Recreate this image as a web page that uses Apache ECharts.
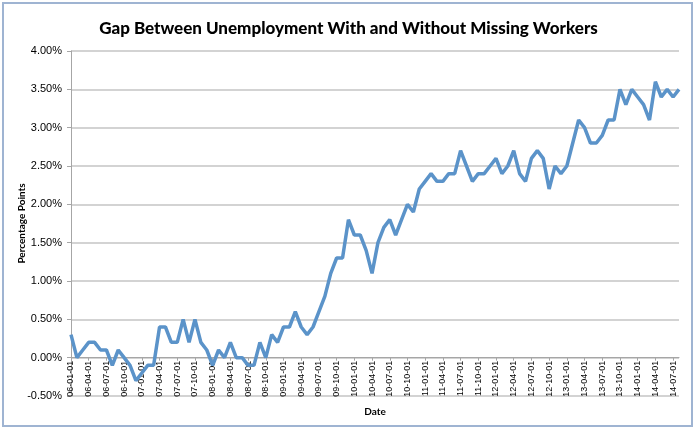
<!DOCTYPE html>
<html>
<head>
<meta charset="utf-8">
<script src="https://cdn.jsdelivr.net/npm/echarts@6/dist/echarts.min.js"></script>
<style>
  html, body { margin: 0; padding: 0; background: #ffffff; }
  #chart { width: 697px; height: 431px; }
</style>
</head>
<body>
<div id="chart"></div>
<script>
// 月度数据：2006-01 至 2014-08（百分点）
const years = ['06', '07', '08', '09', '10', '11', '12', '13', '14'];
const months = ['01', '02', '03', '04', '05', '06', '07', '08', '09', '10', '11', '12'];
const gapValues = [
  0.3, 0.0, 0.1, 0.2, 0.2, 0.1, 0.1, -0.1, 0.1, 0.0, -0.1, -0.3,
  -0.2, -0.1, -0.1, 0.4, 0.4, 0.2, 0.2, 0.5, 0.2, 0.5, 0.2, 0.1,
  -0.1, 0.1, 0.0, 0.2, 0.0, 0.0, -0.1, -0.1, 0.2, 0.0, 0.3, 0.2,
  0.4, 0.4, 0.6, 0.4, 0.3, 0.4, 0.6, 0.8, 1.1, 1.3, 1.3, 1.8,
  1.6, 1.6, 1.4, 1.1, 1.5, 1.7, 1.8, 1.6, 1.8, 2.0, 1.9, 2.2,
  2.3, 2.4, 2.3, 2.3, 2.4, 2.4, 2.7, 2.5, 2.3, 2.4, 2.4, 2.5,
  2.6, 2.4, 2.5, 2.7, 2.4, 2.3, 2.6, 2.7, 2.6, 2.2, 2.5, 2.4,
  2.5, 2.8, 3.1, 3.0, 2.8, 2.8, 2.9, 3.1, 3.1, 3.5, 3.3, 3.5,
  3.4, 3.3, 3.1, 3.6, 3.4, 3.5, 3.4, 3.5
];
const yTicks = { min: -0.5, max: 4.0, step: 0.5 };

// 生成日期类目
const dates = [];
years.forEach(y => months.forEach(m => dates.push(y + '-' + m + '-01')));
dates.length = gapValues.length;

// 绘图区尺寸
const gridTop = 51, gridBottom = 35;
const plotHeight = 431 - gridTop - gridBottom;
// 类目轴放在 0 线上（Excel 样式）
const zeroOffset = -plotHeight * (0 - yTicks.min) / (yTicks.max - yTicks.min);

const chart = echarts.init(document.getElementById('chart'));
chart.setOption({
  animation: false,
  backgroundColor: '#ffffff',
  title: {
    text: 'Gap Between Unemployment With and Without Missing Workers',
    left: 'center',
    top: 15,
    textStyle: { fontFamily: 'Lato', fontWeight: 900, fontSize: 17, color: '#000' }
  },
  graphic: [{
    type: 'rect',
    shape: { x: 3, y: 3, width: 689, height: 423 },
    style: { fill: 'none', stroke: '#9fb4d2', lineWidth: 2 },
    silent: true
  }],
  grid: { left: 71, right: 18, top: gridTop, bottom: gridBottom },
  xAxis: {
    type: 'category',
    data: dates,
    boundaryGap: false,
    offset: zeroOffset,
    name: 'Date',
    nameLocation: 'middle',
    nameGap: 49,
    nameMoveOverlap: false,
    nameTextStyle: { fontFamily: 'Lato', fontWeight: 'bold', fontSize: 10, color: '#000' },
    axisLine: { onZero: false, lineStyle: { color: '#a6a6a6', width: 1 } },
    axisTick: { interval: 2, length: 3, lineStyle: { color: '#a6a6a6' } },
    axisLabel: {
      interval: 2,
      rotate: 90,
      fontFamily: 'Liberation Sans',
      fontSize: 9,
      color: '#000',
      margin: 3
    }
  },
  yAxis: {
    type: 'value',
    min: yTicks.min,
    max: yTicks.max,
    interval: yTicks.step,
    name: 'Percentage Points',
    nameLocation: 'middle',
    nameGap: 44,
    nameMoveOverlap: false,
    nameTextStyle: { fontFamily: 'Lato', fontWeight: 'bold', fontSize: 10, color: '#000' },
    axisLine: { show: true, lineStyle: { color: '#a6a6a6', width: 1 } },
    axisTick: { show: true, length: 4, lineStyle: { color: '#a6a6a6' } },
    axisLabel: {
      formatter: v => v.toFixed(2) + '%',
      fontFamily: 'Liberation Sans',
      fontSize: 11,
      color: '#000',
      margin: 9
    },
    splitLine: { lineStyle: { color: '#c4c4c4', width: 1.5 } }
  },
  series: [{
    type: 'line',
    data: gapValues,
    showSymbol: false,
    lineStyle: { color: '#5b93c9', width: 3.5 },
    itemStyle: { color: '#5b93c9' }
  }]
});
</script>
</body>
</html>
